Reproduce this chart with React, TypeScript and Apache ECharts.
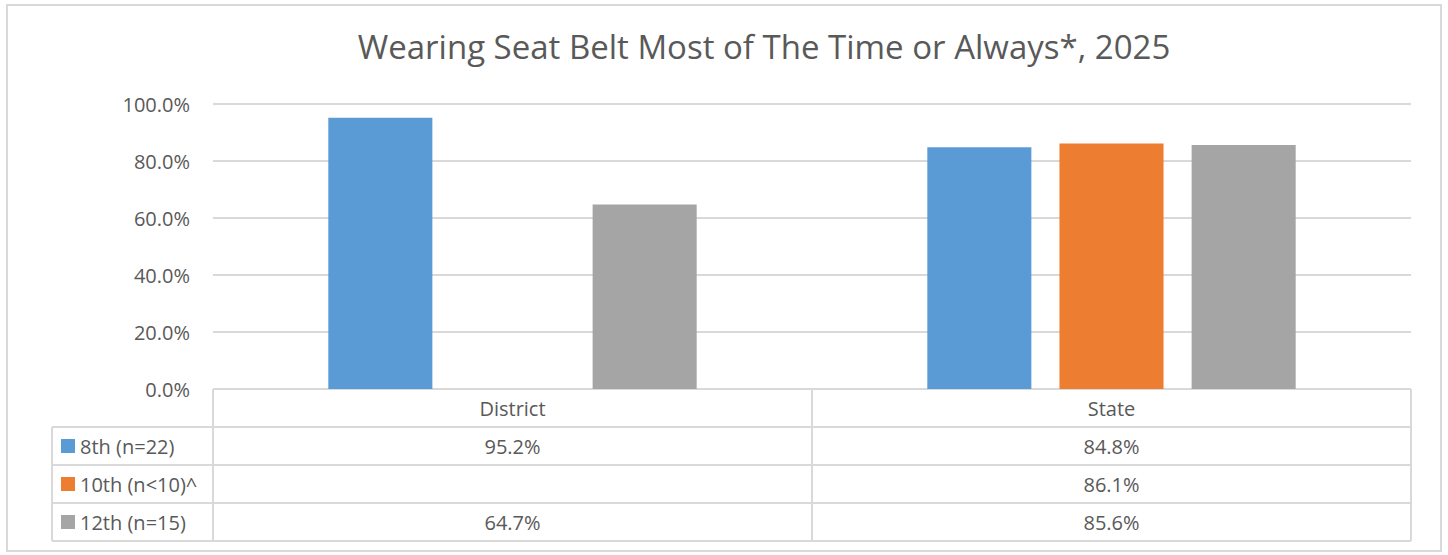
import React, { useEffect, useRef } from "react";
import * as echarts from "echarts";

const title = "Wearing Seat Belt Most of The Time or Always*, 2025";
const categories = ["District", "State"];
const seriesNames = ["8th (n=22)", "10th (n<10)^", "12th (n=15)"];
const grade8 = [95.2, 84.8];
const grade10: (number | null)[] = [null, 86.1];
const grade12 = [64.7, 85.6];
const seriesData = [grade8, grade10, grade12];
const colors = ["#5B9BD5", "#ED7D31", "#A5A5A5"];
const yTicks = { min: 0, max: 100, interval: 20 };

const W = 1448;
const H = 555;
const gridLeft = 213;
const gridRight = 1411;
const gridTop = 104;
const gridBottom = 389;
const rowH = 38;
const tableLeft = 52;
const lineColor = "#D9D9D9";
const textColor = "#595959";
const FONT = "'Open Sans', sans-serif";

export default function App() {
  const ref = useRef<HTMLDivElement>(null);
  useEffect(() => {
    if (!ref.current) return;
    const chart = echarts.init(ref.current, null, { renderer: "svg" });
    const catW = (gridRight - gridLeft) / categories.length;
    const graphics: any[] = [];
    // outer border
    graphics.push({
      type: "rect",
      shape: { x: 7, y: 5, width: 1434, height: 546 },
      style: { fill: "none", stroke: lineColor, lineWidth: 2 },
      silent: true,
    });
    const tableBottom = gridBottom + rowH * (seriesNames.length + 1);
    // horizontal lines
    for (let i = 1; i <= seriesNames.length + 1; i++) {
      const y = gridBottom + rowH * i;
      graphics.push({
        type: "line",
        shape: { x1: tableLeft, y1: y, x2: gridRight, y2: y },
        style: { stroke: lineColor, lineWidth: 2 },
        silent: true,
      });
    }
    graphics.push({
      type: "line",
      shape: { x1: gridLeft, y1: gridBottom, x2: gridRight, y2: gridBottom },
      style: { stroke: lineColor, lineWidth: 2 },
      silent: true,
    });
    // vertical lines
    graphics.push({
      type: "line",
      shape: { x1: tableLeft, y1: gridBottom + rowH, x2: tableLeft, y2: tableBottom },
      style: { stroke: lineColor, lineWidth: 2 },
      silent: true,
    });
    for (let c = 0; c <= categories.length; c++) {
      const x = gridLeft + catW * c;
      graphics.push({
        type: "line",
        shape: { x1: x, y1: gridBottom, x2: x, y2: tableBottom },
        style: { stroke: lineColor, lineWidth: 2 },
        silent: true,
      });
    }
    // legend keys and values
    seriesNames.forEach((name, i) => {
      const cy = gridBottom + rowH * (i + 1) + rowH / 2;
      graphics.push({
        type: "rect",
        shape: { x: 61, y: cy - 7, width: 14, height: 14 },
        style: { fill: colors[i] },
        silent: true,
      });
      graphics.push({
        type: "text",
        x: 80,
        y: cy,
        style: {
          text: name,
          fill: textColor,
          font: `20px ${FONT}`,
          textAlign: "left",
          textVerticalAlign: "middle",
        },
        silent: true,
      });
      seriesData[i].forEach((v, c) => {
        if (v == null) return;
        graphics.push({
          type: "text",
          x: gridLeft + catW * (c + 0.5),
          y: cy,
          style: {
            text: v.toFixed(1) + "%",
            fill: textColor,
            font: `20px ${FONT}`,
            textAlign: "center",
            textVerticalAlign: "middle",
          },
          silent: true,
        });
      });
    });

    chart.setOption({
      animation: false,
      color: colors,
      title: {
        text: title,
        left: 759,
        top: 25,
        textAlign: "center",
        textStyle: {
          color: textColor,
          fontFamily: FONT,
          fontSize: 33,
          fontWeight: "normal",
        },
      },
      grid: {
        left: gridLeft,
        right: W - gridRight,
        top: gridTop,
        bottom: H - gridBottom,
        containLabel: false,
      },
      xAxis: {
        type: "category",
        data: categories,
        axisLine: { show: false },
        axisTick: { show: false },
        axisLabel: {
          margin: 9,
          color: textColor,
          fontFamily: FONT,
          fontSize: 20,
        },
      },
      yAxis: {
        type: "value",
        min: yTicks.min,
        max: yTicks.max,
        interval: yTicks.interval,
        axisLine: { show: false },
        axisTick: { show: false },
        splitLine: { lineStyle: { color: lineColor, width: 2 } },
        axisLabel: {
          margin: 23,
          color: textColor,
          fontFamily: FONT,
          fontSize: 20,
          formatter: (v: number) => v.toFixed(1) + "%",
        },
      },
      series: seriesNames.map((name, i) => ({
        name,
        type: "bar",
        data: seriesData[i],
        barGap: "27%",
        barCategoryGap: "38.5%",
        itemStyle: { color: colors[i] },
      })),
      graphic: graphics,
    });
    return () => chart.dispose();
  }, []);
  return (
    <div
      ref={ref}
      style={{ position: "absolute", left: 0, top: 0, width: W, height: H, background: "#fff" }}
    />
  );
}
